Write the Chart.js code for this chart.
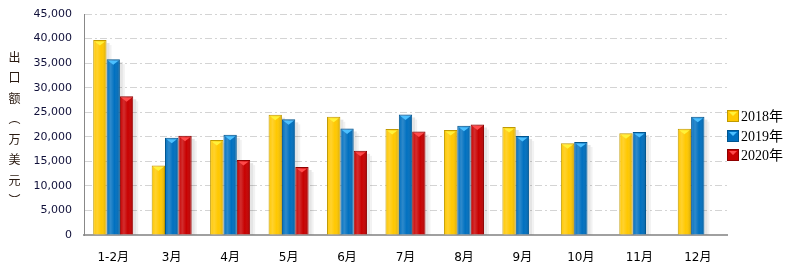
<!DOCTYPE html>
<html><head><meta charset="utf-8">
<script src="https://cdn.jsdelivr.net/npm/chart.js@4/dist/chart.umd.min.js"></script>
<style>
html,body{margin:0;padding:0;background:#fff;}
#wrap{position:relative;width:787px;height:275px;}
#ytitle{position:absolute;left:6px;top:51px;writing-mode:vertical-rl;text-orientation:upright;font:12px "Noto Sans CJK SC",sans-serif;letter-spacing:8.5px;color:#2a1a10;}
#legend{position:absolute;left:727px;top:108px;font:14px 'Liberation Serif','Noto Sans CJK SC',serif;color:#000;}
#legend div{height:19.5px;line-height:17px;white-space:nowrap;}
#legend span.box{display:inline-block;width:10px;height:10px;vertical-align:-1px;margin-right:2px;border:1px solid;position:relative;}
#legend span.box i{position:absolute;left:1px;top:1px;width:0;height:0;border-left:4px solid transparent;border-right:4px solid transparent;border-top:4px solid;}
</style></head>
<body>
<div id="wrap">
<canvas id="c" width="787" height="275"></canvas>
<div id="ytitle">出口额（万美元）</div>
<div id="legend"></div>
</div>
<script>
const categories = ['1-2月','3月','4月','5月','6月','7月','8月','9月','10月','11月','12月'];
const seriesNames = ['2018年','2019年','2020年'];
const v2018 = [39700,14150,19350,24500,24100,21600,21400,22000,18700,20700,21650];
const v2019 = [35800,19800,20400,23550,21700,24550,22250,20150,18950,20950,24100];
const v2020 = [28250,20200,15250,13850,17150,21050,22500,null,null,null,null];
const yTicks = [0,5000,10000,15000,20000,25000,30000,35000,40000,45000];

const fills = ['#FFC800','#0070C0','#C80000'];
const borders = ['#C09A00','#00558F','#8E0000'];
const lights = ['#FFF23A','#4CC0FF','#FF4A4A'];

const barDeco = {
  id:'barDeco',
  beforeDatasetsDraw(chart){
    const ctx = chart.ctx;
    ctx.save();
    chart.data.datasets.forEach((ds,di)=>{
      chart.getDatasetMeta(di).data.forEach((el,i)=>{
        if(ds.data[i]==null) return;
        const w = el.width, x = el.x - w/2, y = el.y, h = el.base - el.y;
        ctx.fillStyle = 'rgba(0,0,0,0.10)';
        ctx.fillRect(x + w, y + 3, 3, h - 3);
        ctx.fillStyle = 'rgba(0,0,0,0.05)';
        ctx.fillRect(x + w + 3, y + 5, 2, h - 5);
      });
    });
    ctx.restore();
  },
  afterDatasetsDraw(chart){
    const ctx = chart.ctx;
    ctx.save();
    chart.data.datasets.forEach((ds,di)=>{
      chart.getDatasetMeta(di).data.forEach((el,i)=>{
        if(ds.data[i]==null) return;
        const w = el.width, x = el.x - w/2, y = el.y, h = el.base - el.y;
        const g = ctx.createLinearGradient(x,0,x+w,0);
        g.addColorStop(0,'rgba(255,255,255,0.0)');
        g.addColorStop(0.3,'rgba(255,255,255,0.18)');
        g.addColorStop(0.6,'rgba(255,255,255,0.0)');
        g.addColorStop(1,'rgba(0,0,0,0.18)');
        ctx.fillStyle = g;
        ctx.fillRect(x+1,y+1,w-2,h-1);
        ctx.fillStyle = lights[di];
        ctx.beginPath();
        ctx.moveTo(x+1.5,y+1.5);
        ctx.lineTo(x+w-1.5,y+1.5);
        ctx.lineTo(x+w/2,y+5.5);
        ctx.closePath();
        ctx.fill();
      });
    });
    ctx.restore();
  }
};

const chart = new Chart(document.getElementById('c'),{
  type:'bar',
  data:{
    labels:categories,
    datasets:[v2018,v2019,v2020].map((d,i)=>({
      label:seriesNames[i], data:d,
      backgroundColor:fills[i], borderColor:borders[i], borderWidth:1,
      barPercentage:1.0, categoryPercentage:0.685
    }))
  },
  options:{
    responsive:false, animation:false, devicePixelRatio:1,
    layout:{padding:{top:14,right:60,left:0,bottom:0}},
    plugins:{
      tooltip:{enabled:false},
      legend:{display:false}
    },
    scales:{
      x:{
        grid:{display:false},
        border:{display:true,color:'#A0A0A0',width:2},
        ticks:{color:'#000',padding:8,font:{family:"'DejaVu Sans','Noto Sans CJK SC',sans-serif",size:12}},
        afterFit(s){s.height=40;s.paddingLeft=0;s.paddingRight=0;}
      },
      y:{
        min:0,max:45000,
        afterBuildTicks(s){s.ticks = yTicks.map(v=>({value:v}));},
        grid:{color:'#D4D4D4',lineWidth:1,drawTicks:false},
        border:{display:true,color:'#888',width:1,dash:[7,3,2,3]},
        ticks:{color:'#10103a',padding:12,
          font:{family:"'DejaVu Sans',sans-serif",size:11},
          callback:v=>v.toLocaleString('en-US')},
        afterFit(s){s.width=84;s.paddingTop=0;s.paddingBottom=0;}
      }
    }
  },
  plugins:[barDeco]
});

// legend built from the chart's datasets
const lg = document.getElementById('legend');
chart.data.datasets.forEach((ds,i)=>{
  const row = document.createElement('div');
  const box = document.createElement('span');
  box.className='box';
  box.style.background = ds.backgroundColor;
  box.style.borderColor = ds.borderColor;
  const tri = document.createElement('i');
  tri.style.borderTopColor = lights[i];
  box.appendChild(tri);
  row.appendChild(box);
  row.appendChild(document.createTextNode(ds.label));
  lg.appendChild(row);
});
</script>
</body></html>
